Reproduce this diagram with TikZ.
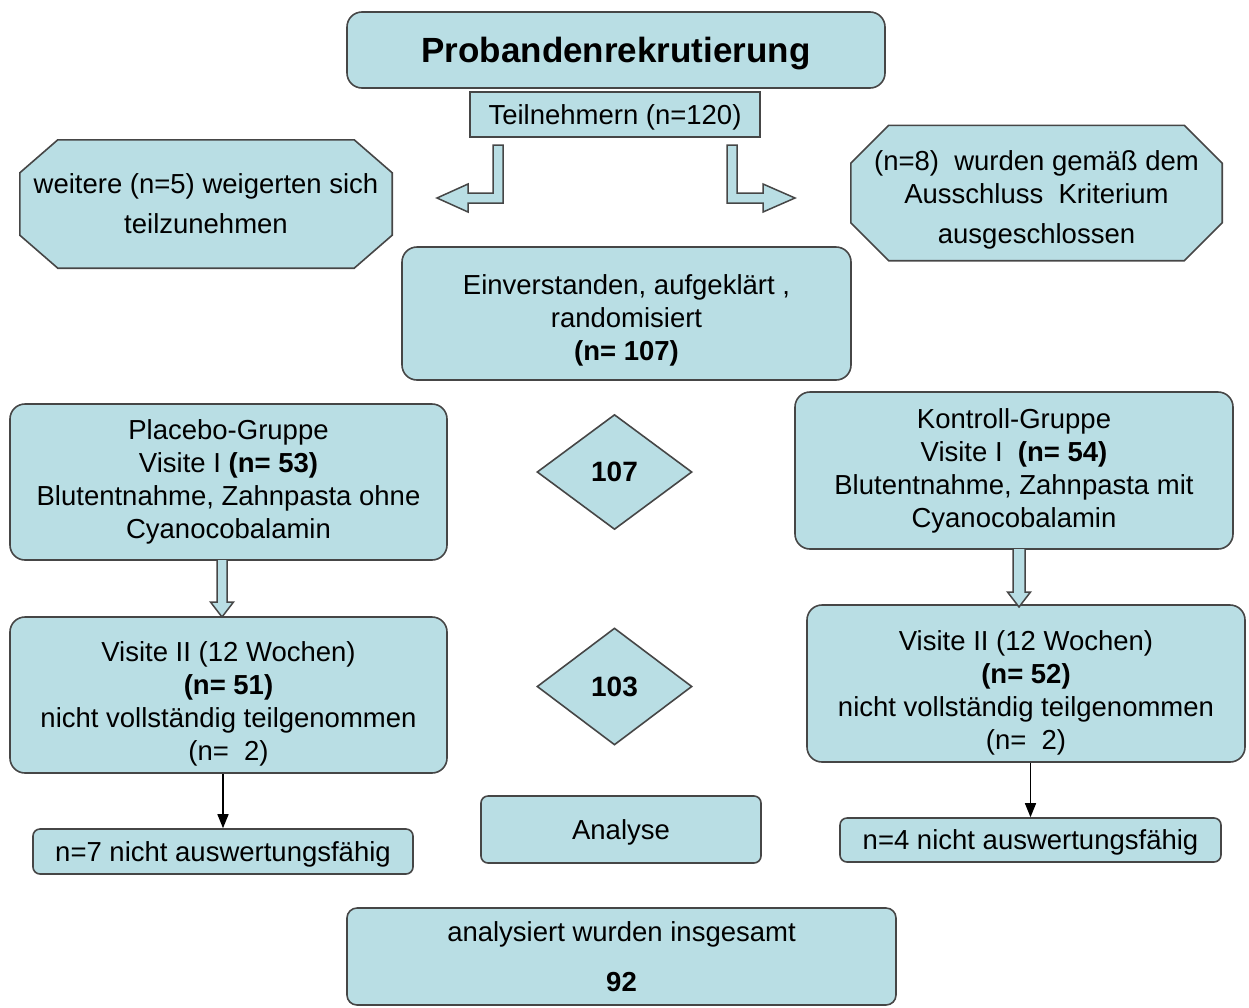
\documentclass[tikz,border=0pt]{standalone}
\usepackage{fontspec}
\setmainfont{Liberation Sans}
\usetikzlibrary{shapes.geometric,arrows.meta,backgrounds}
\definecolor{boxfill}{RGB}{185,222,228}
\definecolor{boxline}{RGB}{70,70,70}
\tikzset{
  base/.style={font=\fontsize{27.5}{33}\selectfont, align=center, inner sep=0pt},
  oneline/.style={text height=19.7pt, text depth=0pt},
  rbox/.style={base, draw=boxline, fill=boxfill, line width=1.6pt, rounded corners=15pt},
  sbox/.style={base, draw=boxline, fill=boxfill, line width=1.6pt, rounded corners=7pt},
  plainbox/.style={base, draw=boxline, fill=boxfill, line width=1.6pt},
  octtext/.style={base},
  octline/.style={draw=boxline, fill=boxfill, line width=1.6pt},
  dia/.style={base, diamond, draw=boxline, fill=boxfill, line width=1.6pt, font=\fontsize{28}{33}\selectfont\bfseries},
  blockarrow/.style={draw=boxline, fill=boxfill, line width=1.5pt, line join=miter},
  thinarrow/.style={draw=black, line width=1.4pt, -{Triangle[width=11pt,length=14pt]}}
}
\begin{document}
\begin{tikzpicture}[x=1pt,y=-1pt]
\useasboundingbox (0,0) rectangle (1249,1007);

% top
\node[rbox, minimum width=538pt, minimum height=76pt, font=\fontsize{35}{40}\selectfont\bfseries, text height=25pt, text depth=0pt] (title) at (616,50) {Probandenrekrutierung};
\node[plainbox, oneline, minimum width=290pt, minimum height=45pt] (teil) at (615,114.5) {Teilnehmern (n=120)};

% octagons
\node[octtext, minimum width=372pt, minimum height=128pt] (octL) at (206,204) {weitere (n=5) weigerten sich\\[7pt] teilzunehmen};
\node[octtext, minimum width=371pt, minimum height=135pt] (octR) at (1036.5,193) {\rule{0pt}{33pt}(n=8)\ \ wurden gemäß dem\\ Ausschluss\ \ Kriterium\\[7pt] ausgeschlossen};
\begin{scope}[on background layer]
\draw[octline] ([xshift=38pt]octL.north west) -- ([xshift=-38pt]octL.north east) -- ([yshift=-33pt]octL.north east) -- ([yshift=33pt]octL.south east) -- ([xshift=-38pt]octL.south east) -- ([xshift=38pt]octL.south west) -- ([yshift=33pt]octL.south west) -- ([yshift=-33pt]octL.north west) -- cycle;
\draw[octline] ([xshift=38pt]octR.north west) -- ([xshift=-38pt]octR.north east) -- ([yshift=-38pt]octR.north east) -- ([yshift=38pt]octR.south east) -- ([xshift=-38pt]octR.south east) -- ([xshift=38pt]octR.south west) -- ([yshift=38pt]octR.south west) -- ([yshift=-38pt]octR.north west) -- cycle;
\end{scope}

% bent block arrows
\draw[blockarrow] (503,145) -- (503,203) -- (468,203) -- (468,212) -- (437,198) -- (468,184) -- (468,193) -- (493,193) -- (493,145) -- cycle;
\draw[blockarrow] (727,145) -- (727,203) -- (763,203) -- (763,212) -- (795,198) -- (763,184) -- (763,193) -- (737,193) -- (737,145) -- cycle;

% middle
\node[rbox, minimum width=449pt, minimum height=133pt] (einv) at (626.5,313.5) {\rule{0pt}{33pt}Einverstanden, aufgeklärt ,\\ randomisiert\\ \textbf{(n= 107)}};
\node[rbox, minimum width=437pt, minimum height=156pt] (plac) at (228.5,482) {Placebo-Gruppe\\ Visite I \textbf{(n= 53)}\\ Blutentnahme, Zahnpasta ohne\\ Cyanocobalamin};
\node[rbox, minimum width=438pt, minimum height=157pt] (kont) at (1014,470.5) {Kontroll-Gruppe\\ Visite I\ \ \textbf{(n= 54)}\\ Blutentnahme, Zahnpasta mit\\ Cyanocobalamin};
\node[dia, minimum width=155pt, minimum height=115pt] (d107) at (614.5,472) {107};

\node[rbox, minimum width=437pt, minimum height=156pt] (v2l) at (228.5,695) {\rule{0pt}{38pt}Visite II (12 Wochen)\\ \textbf{(n= 51)}\\ nicht vollständig teilgenommen\\ (n=\ \ 2)};
\node[rbox, minimum width=438pt, minimum height=157pt] (v2r) at (1026,683.5) {\rule{0pt}{38pt}Visite II (12 Wochen)\\ \textbf{(n= 52)}\\ nicht vollständig teilgenommen\\ (n=\ \ 2)};
\node[dia, minimum width=155pt, minimum height=117pt] (d103) at (614.5,686.5) {103};

% down block arrows
\draw[blockarrow] (217,560) -- (217,602) -- (210.5,602) -- (222,617) -- (233.5,602) -- (227,602) -- (227,560);
\draw[blockarrow] (1013,549) -- (1013,592) -- (1007.5,592) -- (1019,607) -- (1030.5,592) -- (1025,592) -- (1025,549);

% bottom
\node[sbox, oneline, minimum width=380pt, minimum height=45pt] (n7) at (223,851.5) {n=7 nicht auswertungsfähig};
\node[sbox, oneline, minimum width=280pt, minimum height=67pt] (anal) at (621,829.5) {Analyse};
\node[sbox, oneline, minimum width=381pt, minimum height=44pt] (n4) at (1030.5,840) {n=4 nicht auswertungsfähig};
\node[rbox, rounded corners=10pt, minimum width=549pt, minimum height=97pt] (ana2) at (621.5,956.5) {analysiert wurden insgesamt\\[17pt] \textbf{92}};

\draw[thinarrow] (n7.north |- v2l.south) -- (n7.north);
\draw[thinarrow] (n4.north |- v2r.south) -- (n4.north);
\end{tikzpicture}
\end{document}
